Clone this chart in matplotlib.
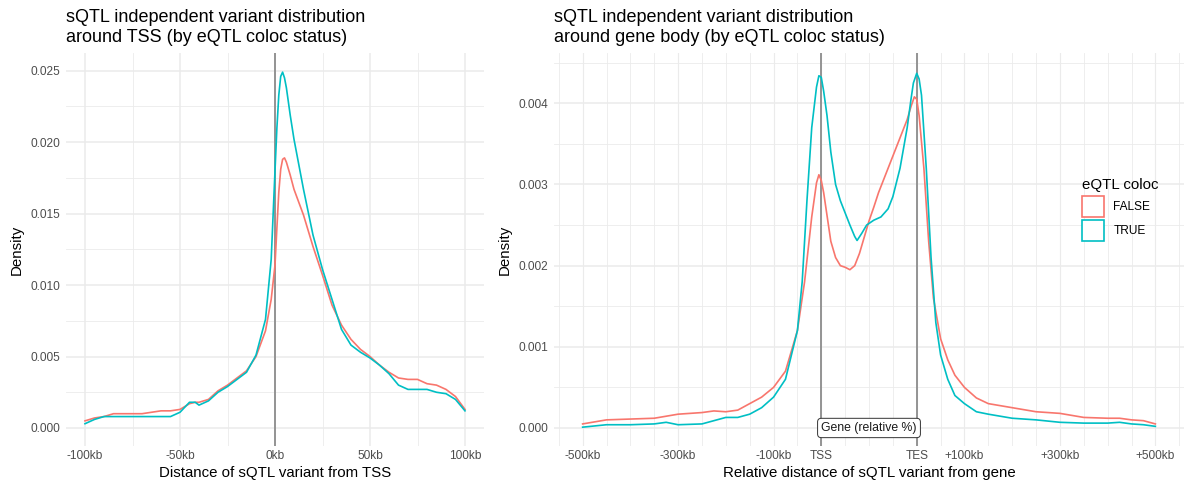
import matplotlib
matplotlib.use("Agg")
import matplotlib.pyplot as plt
from matplotlib.patches import Patch

plt.rcParams['font.family'] = ['Liberation Sans', 'DejaVu Sans']

# ---- left panel data: distance from TSS (kb) ----
tss_x = [-100, -95, -90, -85, -80, -75, -70, -60, -55, -50, -45, -42, -40, -35, -30, -25, -20, -15, -10, -5, -2,
         0, 1, 2, 3, 4, 5, 6, 8, 10, 15, 20, 25, 30, 35, 40, 45, 50, 55, 60, 65, 70, 75, 80, 85, 90, 95, 100]
tss_false = [0.0005, 0.0007, 0.0008, 0.0010, 0.0010, 0.0010, 0.0010, 0.0012, 0.0012, 0.0013, 0.0017, 0.0018, 0.0018,
             0.0020, 0.0026, 0.0030, 0.0035, 0.0040, 0.0050, 0.0068, 0.0090,
             0.0114, 0.0140, 0.0165, 0.0181, 0.0188, 0.0189, 0.0186, 0.0177, 0.0167, 0.0149, 0.0127, 0.0107,
             0.0086, 0.0072, 0.0062, 0.0055, 0.0050, 0.0044, 0.0039, 0.0035, 0.0034, 0.0034, 0.0031, 0.0030,
             0.0027, 0.0022, 0.0013]
tss_true = [0.0003, 0.0006, 0.0008, 0.0008, 0.0008, 0.0008, 0.0008, 0.0008, 0.0008, 0.0011, 0.0018, 0.0018, 0.0016,
            0.0019, 0.0025, 0.0029, 0.0034, 0.0039, 0.0051, 0.0076, 0.0118,
            0.0180, 0.0210, 0.0233, 0.0246, 0.0249, 0.0245, 0.0238, 0.0219, 0.0202, 0.0167, 0.0135, 0.0111,
            0.0090, 0.0069, 0.0058, 0.0053, 0.0049, 0.0044, 0.0038, 0.0030, 0.0027, 0.0027, 0.0027, 0.0025,
            0.0024, 0.0020, 0.0012]

# ---- right panel data: upstream kb | gene body (TSS=0, TES=200) | downstream kb ----
gb_x_false = [-500, -450, -400, -350, -300, -250, -225, -200, -175, -150, -125, -100, -75, -50, -35, -20, -10, -5, 0,
              5, 10, 20, 30, 40, 50, 60, 70, 80, 90, 100, 110, 120, 130, 140, 150, 160, 170, 180, 188, 195, 200,
              205, 215, 225, 235, 250, 265, 280, 300, 325, 350, 400, 450, 500, 550, 600, 625, 650, 675, 700]
gb_false = [0.00005, 0.00010, 0.00011, 0.00012, 0.00017, 0.00019, 0.00021, 0.00020, 0.00022, 0.00030, 0.00038,
            0.00050, 0.00070, 0.00120, 0.00180, 0.00260, 0.00302, 0.00312, 0.00305,
            0.00290, 0.00270, 0.00230, 0.00210, 0.00200, 0.00198, 0.00195, 0.00200, 0.00215, 0.00235, 0.00255,
            0.00272, 0.00290, 0.00305, 0.00320, 0.00335, 0.00350, 0.00365, 0.00380, 0.00396, 0.00408, 0.00405,
            0.00385, 0.00320, 0.00230, 0.00160, 0.00110, 0.00084, 0.00065, 0.00050, 0.00037, 0.00030, 0.00025,
            0.00020, 0.00018, 0.00013, 0.00012, 0.00012, 0.00010, 0.00009, 0.00005]
gb_x_true = [-500, -450, -400, -350, -325, -300, -250, -225, -200, -175, -150, -125, -100, -75, -50, -40, -30, -20,
             -10, -5, 0, 5, 12, 20, 30, 40, 50, 60, 70, 75, 85, 95, 110, 125, 140, 150, 165, 180, 188, 193, 200,
             205, 210, 220, 230, 240, 250, 265, 280, 300, 325, 350, 400, 450, 500, 550, 600, 625, 650, 675, 700]
gb_true = [0.00001, 0.00004, 0.00004, 0.00005, 0.00007, 0.00004, 0.00005, 0.00009, 0.00013, 0.00013, 0.00017,
           0.00025, 0.00038, 0.00060, 0.00120, 0.00180, 0.00280, 0.00370,
           0.00420, 0.00434, 0.00432, 0.00415, 0.00385, 0.00340, 0.00300, 0.00280, 0.00265, 0.00250, 0.00236,
           0.00231, 0.00240, 0.00250, 0.00256, 0.00260, 0.00270, 0.00285, 0.00320, 0.00370, 0.00405, 0.00425,
           0.00437, 0.00430, 0.00410, 0.00320, 0.00210, 0.00130, 0.00090, 0.00060, 0.00040, 0.00030, 0.00020,
           0.00017, 0.00012, 0.00010, 0.00007, 0.00006, 0.00006, 0.00007, 0.00005, 0.00004, 0.00002]

gb_breaks = [-500, -300, -100, 0, 200, 300, 500, 700]
gb_labels = ['-500kb', '-300kb', '-100kb', 'TSS', 'TES', '+100kb', '+300kb', '+500kb']

col_false = '#F8766D'
col_true = '#00BFC4'
grid_col = '#EBEBEB'
txt_col = '#4D4D4D'

W, H = 1186, 490
fig = plt.figure(figsize=(W / 100, H / 100), dpi=100)


def style(ax):
    for s in ax.spines.values():
        s.set_visible(False)
    ax.tick_params(length=0, labelsize=8.6, labelcolor=txt_col, pad=4)
    ax.tick_params(axis='x', pad=3)
    ax.set_axisbelow(True)


# 左边的图
ax1 = fig.add_axes([66 / W, 44 / H, 418 / W, 393 / H])
style(ax1)
for v in [-75, -25, 25, 75]:
    ax1.axvline(v, color=grid_col, lw=0.6, zorder=0)
for v in [0.0025, 0.0075, 0.0125, 0.0175, 0.0225]:
    ax1.axhline(v, color=grid_col, lw=0.6, zorder=0)
ax1.grid(True, color=grid_col, lw=1.1, zorder=0)
ax1.axvline(0, color='#8C8C8C', lw=1.3, zorder=1)
ax1.plot(tss_x, tss_false, color=col_false, lw=1.2, zorder=2)
ax1.plot(tss_x, tss_true, color=col_true, lw=1.2, zorder=3)
ax1.set_xlim(-110, 110)
ax1.set_ylim(-0.00126, 0.02624)
ax1.set_xticks([-100, -50, 0, 50, 100])
ax1.set_xticklabels(['-100kb', '-50kb', '0kb', '50kb', '100kb'])
ax1.set_yticks([0, 0.005, 0.01, 0.015, 0.02, 0.025])
ax1.set_yticklabels(['0.000', '0.005', '0.010', '0.015', '0.020', '0.025'])
ax1.set_xlabel('Distance of sQTL variant from TSS', fontsize=10.8, labelpad=3)
ax1.set_ylabel('Density', fontsize=10.8, labelpad=5)

# 右边的图
ax2 = fig.add_axes([554 / W, 44 / H, 630 / W, 393 / H])
style(ax2)
for v in range(-550, 751, 50):
    ax2.axvline(v, color=grid_col, lw=0.8 if v in gb_breaks else 0.6, zorder=0)
for v in [0.0005, 0.0015, 0.0025, 0.0035, 0.0045]:
    ax2.axhline(v, color=grid_col, lw=0.6, zorder=0)
ax2.grid(True, axis='y', color=grid_col, lw=1.1, zorder=0)
ax2.axvline(0, color='#8C8C8C', lw=1.3, zorder=1)
ax2.axvline(200, color='#8C8C8C', lw=1.3, zorder=1)
ax2.plot(gb_x_false, gb_false, color=col_false, lw=1.2, zorder=2)
ax2.plot(gb_x_true, gb_true, color=col_true, lw=1.2, zorder=3)
ax2.text(100, 0, 'Gene (relative %)', ha='center', va='center', fontsize=8.8, color='#1A1A1A', zorder=5,
         bbox=dict(boxstyle='round,pad=0.3,rounding_size=0.3', fc='white', ec='#333333', lw=0.7))
ax2.set_xlim(-560, 760)
ax2.set_ylim(-0.000222, 0.00462)
ax2.set_xticks(gb_breaks)
ax2.set_xticklabels(gb_labels)
ax2.set_yticks([0, 0.001, 0.002, 0.003, 0.004])
ax2.set_yticklabels(['0.000', '0.001', '0.002', '0.003', '0.004'])
ax2.set_xlabel('Relative distance of sQTL variant from gene', fontsize=10.8, labelpad=3)
ax2.set_ylabel('Density', fontsize=10.8, labelpad=5)

handles = [Patch(facecolor='white', edgecolor=col_false, lw=1.2, label='FALSE'),
           Patch(facecolor='white', edgecolor=col_true, lw=1.2, label='TRUE')]
leg = fig.legend(handles=handles, title='eQTL coloc', loc='upper left',
                 bbox_to_anchor=(1074 / W, 1 - 170 / H), frameon=False, fontsize=8.6,
                 title_fontsize=10.8, handlelength=1.8, handleheight=2.3, labelspacing=0.3,
                 handletextpad=0.8, borderpad=0.2)
leg._legend_box.align = 'left'

fig.text(66 / W, 1 - 9 / H, 'sQTL independent variant distribution\naround TSS (by eQTL coloc status)',
         fontsize=13, va='top', ha='left', color='black', linespacing=1.25)
fig.text(554 / W, 1 - 9 / H, 'sQTL independent variant distribution\naround gene body (by eQTL coloc status)',
         fontsize=13, va='top', ha='left', color='black', linespacing=1.25)

fig.savefig('out.png', dpi=100)
